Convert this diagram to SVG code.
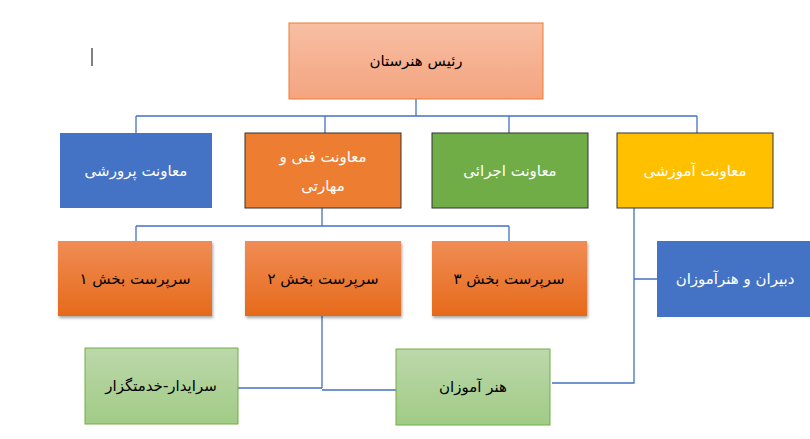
<svg xmlns="http://www.w3.org/2000/svg" width="810" height="439" viewBox="0 0 810 439">
<style>
text{font-family:"DejaVu Sans",sans-serif;font-size:15px;text-anchor:middle;dominant-baseline:central}
.w{fill:#fff}.k{fill:#000}
.c{fill:none;stroke:#4472C4;stroke-width:1.3}
</style>
<defs>
<linearGradient id="pe" x1="0" y1="0" x2="0" y2="1"><stop offset="0" stop-color="#F7BFA3"/><stop offset="1" stop-color="#F4A47F"/></linearGradient>
<linearGradient id="or" x1="0" y1="0" x2="0" y2="1"><stop offset="0" stop-color="#F08C55"/><stop offset="1" stop-color="#E66A1A"/></linearGradient>
<linearGradient id="gr" x1="0" y1="0" x2="0" y2="1"><stop offset="0" stop-color="#BCD8AA"/><stop offset="1" stop-color="#A1CB86"/></linearGradient>
<filter id="sh" x="-10%" y="-10%" width="125%" height="130%"><feDropShadow dx="1" dy="2" stdDeviation="1.5" flood-color="#000" flood-opacity="0.35"/></filter>
</defs>
<rect width="810" height="439" fill="#fff"/>
<line x1="92" y1="48" x2="92" y2="66" stroke="#000" stroke-width="1"/>
<g id="connectors">
<path class="c" d="M416 99V116M136 116H697M136 116V133M325 116V133M509 116V133M697 116V133"/>
<path class="c" d="M322 208V226M136 226H509M136 226V241M509 226V241"/>
<path class="c" d="M634 208V383H552M634 279H657"/>
<path class="c" d="M322 316V388M238 388H322M322 390H396"/>
</g>
<g id="n-head"><rect x="289" y="23" width="254" height="76" fill="url(#pe)" stroke="#ED7D31"/><text class="k" x="416" y="61">رئیس هنرستان</text></g>
<g id="n-parvareshi"><rect x="60" y="133" width="152" height="75" fill="#4472C4"/><text class="w" x="136" y="171">معاونت پرورشی</text></g>
<g id="n-fanni"><rect x="245" y="133" width="156" height="75" fill="#ED7D31" stroke="#333"/><text class="w" x="323" y="157">معاونت فنی و</text><text class="w" x="323" y="186">مهارتی</text></g>
<g id="n-ejrai"><rect x="432" y="133" width="156" height="75" fill="#70AD47" stroke="#333"/><text class="w" x="510" y="171">معاونت اجرائی</text></g>
<g id="n-amoozeshi"><rect x="617" y="133" width="156" height="75" fill="#FFC000" stroke="#333"/><text class="w" x="695" y="171">معاونت آموزشی</text></g>
<g id="n-s1"><rect x="58" y="241" width="154" height="75" fill="url(#or)" filter="url(#sh)"/><text class="k" x="135" y="279">سرپرست بخش ۱</text></g>
<g id="n-s2"><rect x="245" y="241" width="156" height="75" fill="url(#or)" filter="url(#sh)"/><text class="k" x="323" y="279">سرپرست بخش ۲</text></g>
<g id="n-s3"><rect x="432" y="241" width="155" height="75" fill="url(#or)" filter="url(#sh)"/><text class="k" x="509" y="279">سرپرست بخش ۳</text></g>
<g id="n-dabiran"><rect x="657" y="241" width="153" height="76" fill="#4472C4"/><text class="w" x="735" y="279">دبیران و هنرآموزان</text></g>
<g id="n-seraydar"><rect x="85" y="348" width="153" height="76" fill="url(#gr)" stroke="#70AD47"/><text class="k" x="161" y="386">سرایدار-خدمتگزار</text></g>
<g id="n-honaramoozan"><rect x="396" y="349" width="154" height="76" fill="url(#gr)" stroke="#70AD47"/><text class="k" x="473" y="387">هنر آموزان</text></g>
</svg>
